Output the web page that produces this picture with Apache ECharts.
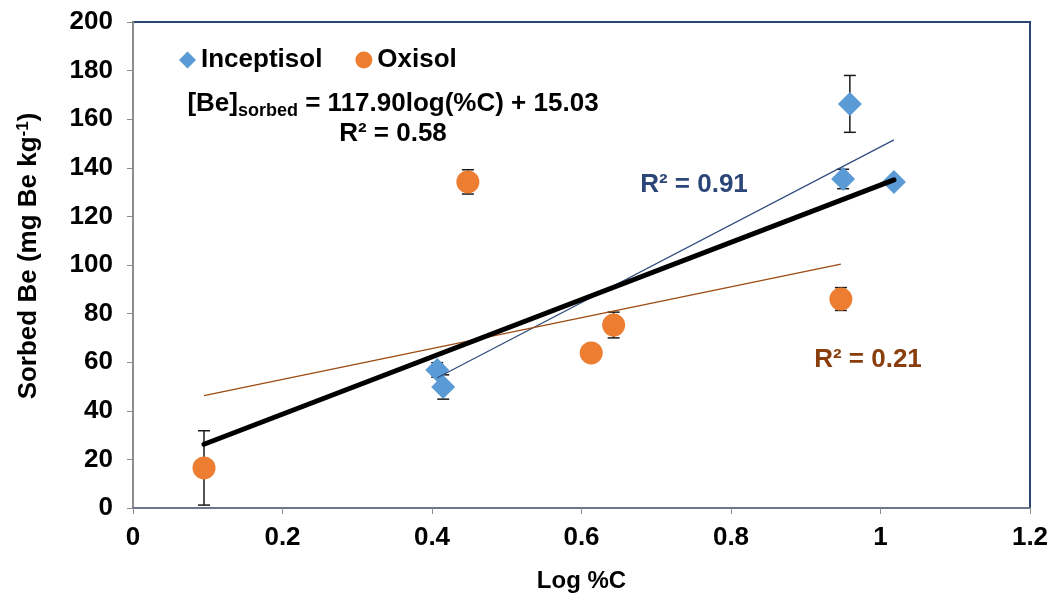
<!DOCTYPE html>
<html>
<head>
<meta charset="utf-8">
<script src="https://cdn.jsdelivr.net/npm/echarts@6/dist/echarts.min.js"></script>
<style>
  html, body { margin: 0; padding: 0; background: #ffffff; }
  #chart { width: 1055px; height: 600px; }
</style>
</head>
<body>
<div id="chart"></div>
<script>
// Log %C (x) and sorbed Be in mg Be/kg (y), with ± error for each sample
const inceptisolX = [0.407, 0.415, 0.950, 0.959, 1.018];
const inceptisolY = [56.8, 49.8, 135.4, 166.3, 134.2];
const inceptisolErr = [3, 5, 4, 11.7, 2];

const oxisolX = [0.095, 0.448, 0.613, 0.643, 0.947];
const oxisolY = [16.5, 134.2, 63.8, 75.3, 86.0];
const oxisolErr = [15.3, 5, 2, 5.3, 4.7];

// Linear fits: [slope, intercept]
const fitAll = [117.90, 15.03];
const fitInceptisol = [160.2, -11.6];
const fitOxisol = [63.5, 40.2];

const FONT = '"Liberation Sans", Arial, sans-serif';
const FS = 26;

function pts(xs, ys) { return xs.map((x, i) => [x, ys[i]]); }
function errRows(xs, ys, es) { return xs.map((x, i) => [x, ys[i] - es[i], ys[i] + es[i]]); }
function fitLine(fit, xs) {
  const lo = Math.min(...xs), hi = Math.max(...xs);
  return [[lo, fit[0] * lo + fit[1]], [hi, fit[0] * hi + fit[1]]];
}

function errorBar(params, api) {
  const x = api.value(0);
  const lo = api.coord([x, api.value(1)]);
  const hi = api.coord([x, api.value(2)]);
  const cap = 6;
  const style = { stroke: '#1a1a1a', lineWidth: 1.5 };
  return {
    type: 'group',
    children: [
      { type: 'line', shape: { x1: lo[0], y1: lo[1], x2: hi[0], y2: hi[1] }, style },
      { type: 'line', shape: { x1: lo[0] - cap, y1: lo[1], x2: lo[0] + cap, y2: lo[1] }, style },
      { type: 'line', shape: { x1: hi[0] - cap, y1: hi[1], x2: hi[0] + cap, y2: hi[1] }, style }
    ]
  };
}

const allX = inceptisolX.concat(oxisolX);

const chart = echarts.init(document.getElementById('chart'), null, { renderer: 'canvas' });
chart.setOption({
  animation: false,
  backgroundColor: '#ffffff',
  textStyle: { fontFamily: FONT },
  grid: {
    left: 133, right: 25, top: 22, bottom: 92,
    show: true, borderColor: '#2B4677', borderWidth: 2, backgroundColor: 'transparent'
  },
  legend: {
    left: 174, top: 42,
    itemWidth: 17, itemHeight: 17, itemGap: 33,
    textStyle: { fontFamily: FONT, fontWeight: 'bold', fontSize: FS, color: '#000' },
    data: [
      { name: 'Inceptisol', icon: 'diamond' },
      { name: 'Oxisol', icon: 'circle' }
    ]
  },
  xAxis: {
    type: 'value', min: 0, max: 1.2, interval: 0.2,
    name: 'Log %C', nameLocation: 'middle', nameGap: 61,
    nameTextStyle: { fontFamily: FONT, fontWeight: 'bold', fontSize: 24, color: '#000' },
    axisLine: { show: true, onZero: false, lineStyle: { color: '#6B7786', width: 2 } },
    axisTick: { show: true, length: 6, lineStyle: { color: '#8C8C8C', width: 1 } },
    axisLabel: { fontFamily: FONT, fontWeight: 'bold', fontSize: FS, color: '#000', margin: 17 },
    splitLine: { show: false }
  },
  yAxis: {
    type: 'value', min: 0, max: 200, interval: 20,
    name: '{a|Sorbed Be (mg Be kg}{s|-1}{a|)}', nameLocation: 'middle', nameGap: 89,
    nameTextStyle: {
      padding: [0, 0, 0, 18],
      rich: {
        a: { fontFamily: FONT, fontWeight: 'bold', fontSize: 26, color: '#000', lineHeight: 30 },
        s: { fontFamily: FONT, fontWeight: 'bold', fontSize: 17, color: '#000', lineHeight: 30, padding: [0, 0, 12, 0] }
      }
    },
    axisLine: { show: true, lineStyle: { color: '#8C8C8C', width: 2 } },
    axisTick: { show: true, length: 6, lineStyle: { color: '#8C8C8C', width: 1 } },
    axisLabel: { fontFamily: FONT, fontWeight: 'bold', fontSize: FS, color: '#000', margin: 20 },
    splitLine: { show: false }
  },
  series: [
    {
      name: 'Inceptisol err', type: 'custom', renderItem: errorBar, z: 2,
      encode: { x: 0, y: [1, 2] }, data: errRows(inceptisolX, inceptisolY, inceptisolErr), silent: true
    },
    {
      name: 'Oxisol err', type: 'custom', renderItem: errorBar, z: 2,
      encode: { x: 0, y: [1, 2] }, data: errRows(oxisolX, oxisolY, oxisolErr), silent: true
    },
    {
      name: 'Inceptisol', type: 'scatter', symbol: 'diamond', symbolSize: 24, z: 3,
      itemStyle: { color: '#5B9BD5', opacity: 1 }, data: pts(inceptisolX, inceptisolY)
    },
    {
      name: 'Oxisol', type: 'scatter', symbol: 'circle', symbolSize: 23, z: 3,
      itemStyle: { color: '#ED7D31', opacity: 1 }, data: pts(oxisolX, oxisolY)
    },
    {
      name: 'Inceptisol fit', type: 'line', showSymbol: false, symbol: 'none', z: 4,
      lineStyle: { color: '#2F4B7C', width: 1.2 }, data: fitLine(fitInceptisol, inceptisolX), silent: true
    },
    {
      name: 'Oxisol fit', type: 'line', showSymbol: false, symbol: 'none', z: 4,
      lineStyle: { color: '#9C4A12', width: 1.2 }, data: fitLine(fitOxisol, oxisolX), silent: true
    },
    {
      name: 'All fit', type: 'line', showSymbol: false, symbol: 'none', z: 5,
      lineStyle: { color: '#000000', width: 5, cap: 'round' }, data: fitLine(fitAll, allX), silent: true
    }
  ],
  graphic: [
    {
      type: 'text', x: 393, y: 104, z: 10,
      style: {
        text: '{b|[Be]}{s|sorbed}{b| = ' + fitAll[0].toFixed(2) + 'log(%C) + ' + fitAll[1].toFixed(2) + '}',
        align: 'center', verticalAlign: 'middle',
        rich: {
          b: { fontFamily: FONT, fontWeight: 'bold', fontSize: FS, fill: '#000', lineHeight: 32 },
          s: { fontFamily: FONT, fontWeight: 'bold', fontSize: 18, fill: '#000', lineHeight: 32, padding: [14, 0, 0, 0] }
        }
      }
    },
    {
      type: 'text', x: 393, y: 134, z: 10,
      style: { text: 'R² = 0.58', align: 'center', verticalAlign: 'middle', fontFamily: FONT, fontWeight: 'bold', fontSize: FS, fill: '#000' }
    },
    {
      type: 'text', x: 694, y: 185, z: 10,
      style: { text: 'R² = 0.91', align: 'center', verticalAlign: 'middle', fontFamily: FONT, fontWeight: 'bold', fontSize: FS, fill: '#2B4677' }
    },
    {
      type: 'text', x: 868, y: 360, z: 10,
      style: { text: 'R² = 0.21', align: 'center', verticalAlign: 'middle', fontFamily: FONT, fontWeight: 'bold', fontSize: FS, fill: '#8A3E0E' }
    }
  ]
});
</script>
</body>
</html>
